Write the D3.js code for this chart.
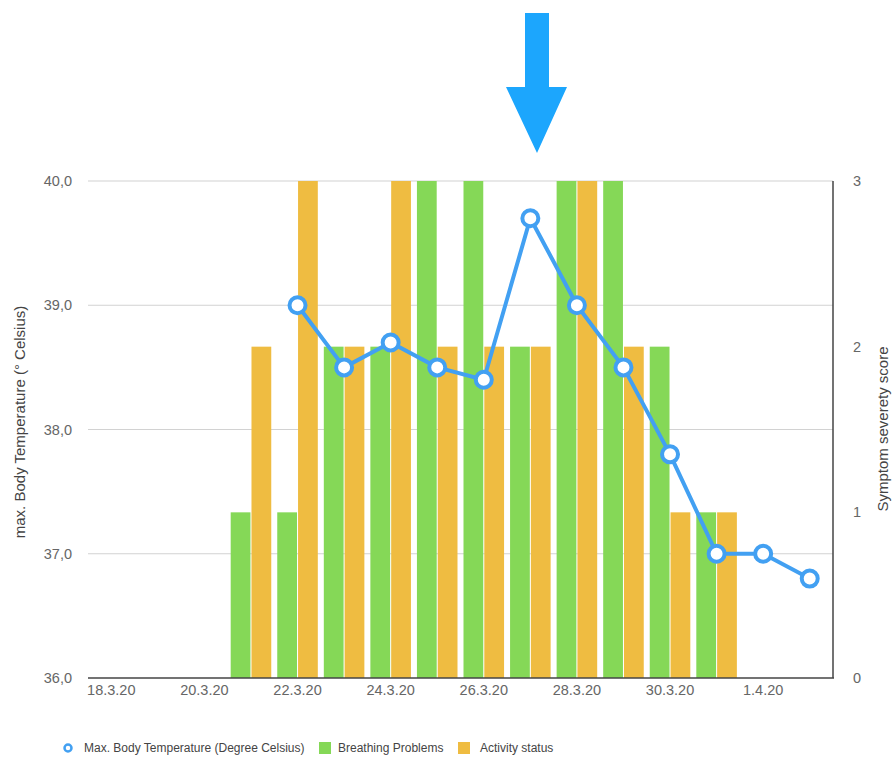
<!DOCTYPE html>
<html>
<head>
<meta charset="utf-8">
<script src="https://cdn.jsdelivr.net/npm/d3@7"></script>
<style>
  body { margin: 0; background: #fff; }
  svg { display: block; font-family: "Liberation Sans", Arial, sans-serif; }
</style>
</head>
<body>
<svg id="chart" width="892" height="758"></svg>
<script>
// --- Data ---
const days = ["18.3.20", "19.3.20", "20.3.20", "21.3.20", "22.3.20", "23.3.20", "24.3.20", "25.3.20",
              "26.3.20", "27.3.20", "28.3.20", "29.3.20", "30.3.20", "31.3.20", "1.4.20", "2.4.20"];
const tickDays = ["18.3.20", "20.3.20", "22.3.20", "24.3.20", "26.3.20", "28.3.20", "30.3.20", "1.4.20"];
// symptom scores (0-3), null = no bar
const breathing = [null, null, null, 1, 1, 2, 2, 3, 3, 2, 3, 3, 2, 1, null, null];
const activity  = [null, null, null, 2, 3, 2, 3, 2, 2, 2, 3, 2, 1, 1, null, null];
// max body temperature, null = not recorded
const temperature = [null, null, null, null, 39.0, 38.5, 38.7, 38.5, 38.4, 39.7, 39.0, 38.5, 37.8, 37.0, 37.0, 36.8];
const tempTicks = [36, 37, 38, 39, 40];
const scoreTicks = [0, 1, 2, 3];
const series = ["Breathing Problems", "Activity status"];

const COLORS = { green: "#85d857", orange: "#efbc41", line: "#42a0f2", arrow: "#1ca6fd" };
const TEXT = "#666";

const svg = d3.select("#chart");
const margin = { left: 88, right: 59, top: 181, bottom: 80 };
const W = 892, H = 758;
const x0 = margin.left, x1 = W - margin.right, yTop = margin.top, yBot = H - margin.bottom;

const x = d3.scaleBand().domain(days).range([x0, x1]);
const xs = d3.scaleBand().domain(series).range([3, x.bandwidth() - 3]).paddingInner(0.05);
const yT = d3.scaleLinear().domain([36, 40]).range([yBot, yTop]);
const yS = d3.scaleLinear().domain([0, 3]).range([yBot, yTop]);

// --- Grid ---
svg.append("g")
  .selectAll("line")
  .data(tempTicks.slice(1))
  .join("line")
  .attr("x1", x0).attr("x2", x1)
  .attr("y1", d => yT(d)).attr("y2", d => yT(d))
  .attr("stroke", "#d2d2d2").attr("stroke-width", 1.2);

// --- Bars ---
const barData = [];
days.forEach((d, i) => {
  if (breathing[i] != null) barData.push({ day: d, s: series[0], v: breathing[i], c: COLORS.green });
  if (activity[i] != null) barData.push({ day: d, s: series[1], v: activity[i], c: COLORS.orange });
});
svg.append("g")
  .selectAll("rect")
  .data(barData)
  .join("rect")
  .attr("x", d => x(d.day) + xs(d.s))
  .attr("width", xs.bandwidth())
  .attr("y", d => yS(d.v))
  .attr("height", d => yS(0) - yS(d.v))
  .attr("fill", d => d.c);

// --- Axes lines ---
svg.append("line").attr("x1", x0).attr("x2", x1 + 1).attr("y1", yBot).attr("y2", yBot)
  .attr("stroke", "#444").attr("stroke-width", 1.5);
svg.append("line").attr("x1", x1).attr("x2", x1).attr("y1", yTop).attr("y2", yBot)
  .attr("stroke", "#444").attr("stroke-width", 1.5);

// left ticks
const fmt = d => d3.format(".1f")(d).replace(".", ",");
svg.append("g")
  .selectAll("text")
  .data(tempTicks)
  .join("text")
  .attr("x", 72).attr("y", d => yT(d)).attr("dy", "0.35em")
  .attr("text-anchor", "end").attr("font-size", 14.5).attr("fill", TEXT)
  .text(fmt);

// right ticks
svg.append("g")
  .selectAll("text")
  .data(scoreTicks)
  .join("text")
  .attr("x", 857).attr("y", d => yS(d)).attr("dy", "0.35em")
  .attr("text-anchor", "middle").attr("font-size", 14.5).attr("fill", TEXT)
  .text(d => d);

// x tick labels
svg.append("g")
  .selectAll("text")
  .data(tickDays)
  .join("text")
  .attr("x", d => x(d) + x.bandwidth() / 2).attr("y", 695)
  .attr("text-anchor", "middle").attr("font-size", 14.5).attr("fill", TEXT)
  .text(d => d);

// axis titles
svg.append("text")
  .attr("transform", "translate(25,422) rotate(-90)")
  .attr("text-anchor", "middle").attr("font-size", 15).attr("fill", "#444")
  .text("max. Body Temperature (° Celsius)");
svg.append("text")
  .attr("transform", "translate(888,429) rotate(-90)")
  .attr("text-anchor", "middle").attr("font-size", 15).attr("fill", "#444")
  .text("Symptom severety score");

// --- Temperature line ---
const tempPts = days.map((d, i) => ({ day: d, v: temperature[i] })).filter(p => p.v != null);
const cx = d => x(d.day) + x.bandwidth() / 2;
svg.append("path")
  .datum(tempPts)
  .attr("fill", "none").attr("stroke", COLORS.line).attr("stroke-width", 4)
  .attr("stroke-linejoin", "round")
  .attr("d", d3.line().x(cx).y(d => yT(d.v)));
svg.append("g")
  .selectAll("circle")
  .data(tempPts)
  .join("circle")
  .attr("cx", cx).attr("cy", d => yT(d.v)).attr("r", 8)
  .attr("fill", "#fff").attr("stroke", COLORS.line).attr("stroke-width", 4);

// --- Arrow annotation ---
svg.append("path")
  .attr("d", "M525,13 L549,13 L549,87 L567,87 L537,153 L506,87 L525,87 Z")
  .attr("fill", COLORS.arrow);

// --- Legend ---
const lg = svg.append("g").attr("font-size", 12).attr("fill", "#444");
lg.append("circle").attr("cx", 68).attr("cy", 748).attr("r", 3.5)
  .attr("fill", "#fff").attr("stroke", COLORS.line).attr("stroke-width", 2.5);
lg.append("text").attr("x", 84).attr("y", 748).attr("dy", "0.35em")
  .text("Max. Body Temperature (Degree Celsius)");
lg.append("rect").attr("x", 319).attr("y", 742).attr("width", 12).attr("height", 12).attr("fill", COLORS.green);
lg.append("text").attr("x", 338).attr("y", 748).attr("dy", "0.35em")
  .text("Breathing Problems");
lg.append("rect").attr("x", 458).attr("y", 742).attr("width", 12).attr("height", 12).attr("fill", COLORS.orange);
lg.append("text").attr("x", 480).attr("y", 748).attr("dy", "0.35em")
  .text("Activity status");
</script>
</body>
</html>
